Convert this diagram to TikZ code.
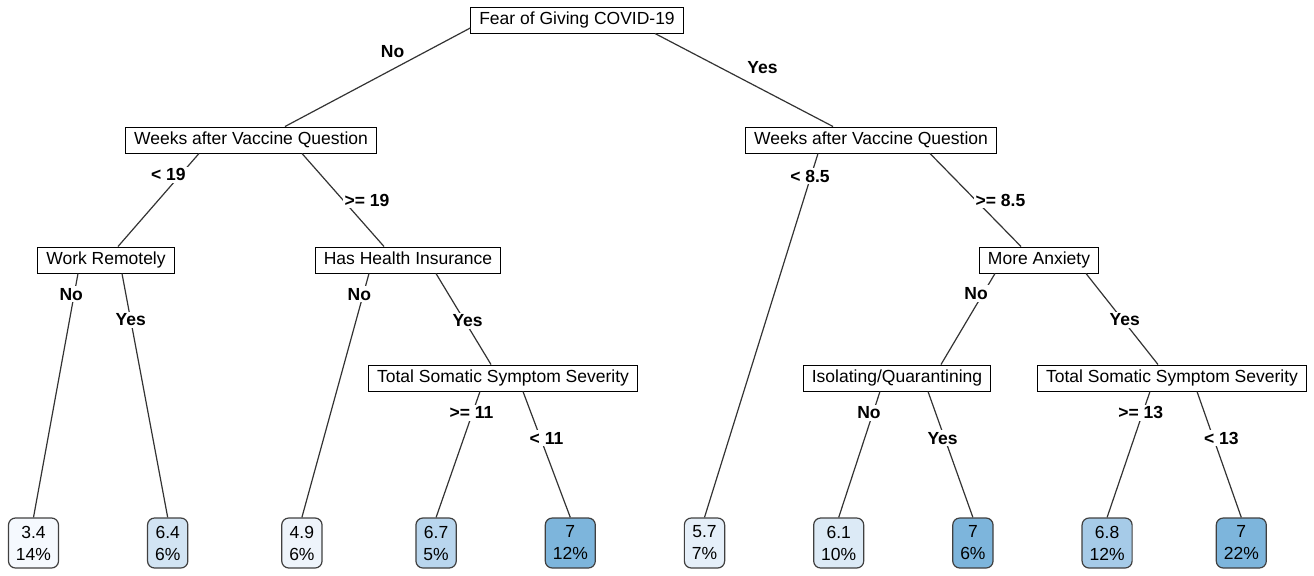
\documentclass[tikz,border=0pt]{standalone}
\usepackage{fontspec}
\setmainfont{Liberation Sans}
\usetikzlibrary{positioning}

\definecolor{c34}{HTML}{F5F9FE}
\definecolor{c49}{HTML}{EEF4FB}
\definecolor{c57}{HTML}{E5EFF9}
\definecolor{c61}{HTML}{DCEAF6}
\definecolor{c64}{HTML}{D2E4F3}
\definecolor{c67}{HTML}{B9D6EE}
\definecolor{c68}{HTML}{A6CBE8}
\definecolor{c70}{HTML}{7DB5DC}

\tikzset{
    split/.style={on grid, draw, fill=white, line width=0.5pt, inner xsep=4.25pt, inner ysep=0pt,
        text height=6.6pt, text depth=1.9pt, minimum height=13pt, font=\fontsize{8.75}{11}\selectfont},
    leaf/.style={on grid, draw=black!75, rounded corners=3.5pt, line width=0.6pt, align=center,
        inner xsep=3.75pt, inner ysep=0pt, minimum height=25pt, font=\fontsize{8.75}{11}\selectfont},
    lbl/.style={fill=white, inner sep=1pt, font=\bfseries\fontsize{8.75}{11}\selectfont},
    branch/.style={draw=black!80, line width=0.6pt},
}

\begin{document}
\begin{tikzpicture}
        \useasboundingbox (0,0) rectangle (657pt,-287.5pt);

        % splits
        \node[split] (root) at (288.5pt,-10pt) {Fear of Giving COVID-19};
        \node[split, below left=60pt and 163pt of root] (wq1) {Weeks after Vaccine Question};
        \node[split, below right=60pt and 147pt of root] (wq2) {Weeks after Vaccine Question};
        \node[split, below left=60pt and 72.5pt of wq1] (wr) {Work Remotely};
        \node[split, below right=60pt and 78.5pt of wq1] (hi) {Has Health Insurance};
        \node[split, below right=60pt and 84pt of wq2] (ma) {More Anxiety};
        \node[split, below right=59pt and 47.5pt of hi] (ts1) {Total Somatic Symptom Severity};
        \node[split, below left=59pt and 71pt of ma] (iq) {Isolating/Quarantining};
        \node[split, below right=59pt and 66.5pt of ma] (ts2) {Total Somatic Symptom Severity};

        % leaves
        \node[leaf, fill=c34, below left=141.5pt and 36.25pt of wr] (l1) {3.4\\14\%};
        \foreach \v/\p/\c [count=\i from 2] in {6.4/6/c64, 4.9/6/c49, 6.7/5/c67, 7/12/c70,
                5.7/7/c57, 6.1/10/c61, 7/6/c70, 6.8/12/c68, 7/22/c70} {
            \pgfmathtruncatemacro\j{\i-1}
            \node[leaf, fill=\c, right=67.1pt of l\j] (l\i) {\v\\\p\%};
        }

        % branches
        \draw[branch] ([yshift=-4pt]root.west) -- node[lbl, pos=.24, anchor=east, xshift=-9.5pt] {No} ([xshift=17pt]wq1.north);
        \draw[branch] ([xshift=39pt]root.south) -- node[lbl, pos=.37, anchor=west, xshift=12pt] {Yes} ([xshift=-19pt]wq2.north);

        \draw[branch] ([xshift=-26pt]wq1.south) -- node[lbl, pos=.23, xshift=-6pt] {< 19} ([xshift=6pt]wr.north);
        \draw[branch] ([xshift=25.5pt]wq1.south) -- node[lbl, pos=.5, xshift=12pt] {>= 19} ([xshift=-12pt]hi.north);
        \draw[branch] ([xshift=-26.5pt]wq2.south) -- node[lbl, pos=.062, xshift=-.5pt] {< 8.5} (l6.north);
        \draw[branch] ([xshift=29.5pt]wq2.south) -- node[lbl, pos=.5, xshift=12.5pt] {>= 8.5} ([xshift=-9pt]ma.north);

        \draw[branch] ([xshift=-14pt]wr.south) -- node[lbl, pos=.085, xshift=-1.5pt] {No} (l1.north);
        \draw[branch] ([xshift=8pt]wr.south) -- node[lbl, pos=.19] {Yes} (l2.north);
        \draw[branch] ([xshift=-19.5pt]hi.south) -- node[lbl, pos=.085, xshift=-2pt] {No} (l3.north);
        \draw[branch] ([xshift=14pt]hi.south) -- node[lbl, pos=.52, xshift=1.5pt] {Yes} ([xshift=-6pt]ts1.north);
        \draw[branch] ([xshift=-22pt]ma.south) -- node[lbl, pos=.22, xshift=-3.5pt] {No} ([xshift=22pt]iq.north);
        \draw[branch] ([xshift=23.5pt]ma.south) -- node[lbl, pos=.51, xshift=1pt] {Yes} ([xshift=-7pt]ts2.north);

        \draw[branch] ([xshift=-11.5pt]ts1.south) -- node[lbl, pos=.17, xshift=-.5pt] {>= 11} (l4.north);
        \draw[branch] ([xshift=10pt]ts1.south) -- node[lbl, pos=.37, xshift=3pt] {< 11} (l5.north);
        \draw[branch] ([xshift=-8.5pt]iq.south) -- node[lbl, pos=.17, xshift=-2pt] {No} (l7.north);
        \draw[branch] ([xshift=15.5pt]iq.south) -- node[lbl, pos=.37, xshift=-1pt] {Yes} (l8.north);
        \draw[branch] ([xshift=-11pt]ts2.south) -- node[lbl, pos=.17, xshift=-1pt] {>= 13} (l9.north);
        \draw[branch] ([xshift=12.5pt]ts2.south) -- node[lbl, pos=.37, xshift=4pt] {< 13} (l10.north);
    \end{tikzpicture}
\end{document}
